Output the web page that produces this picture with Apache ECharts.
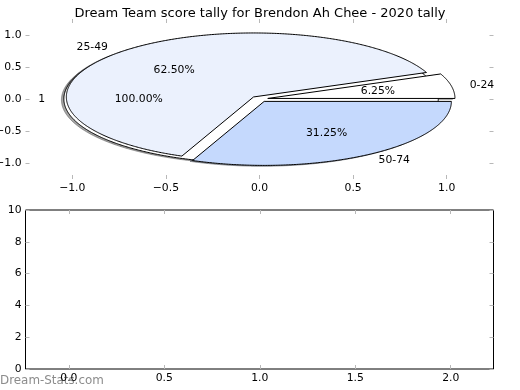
<!DOCTYPE html>
<html><head><meta charset="utf-8">
<script src="https://cdn.jsdelivr.net/npm/echarts@6/dist/echarts.min.js"></script>
<style>html,body{margin:0;padding:0;background:#fff}#c{width:520px;height:390px}</style>
</head><body><div id="c"></div><script>
// ---- data ----
const chartTitle = 'Dream Team score tally for Brendon Ah Chee - 2020 tally';
const outerLabels = ['1'];
const outerValues = [1];
const innerLabels = ['0-24', '25-49', '50-74'];
const innerValues = [1, 10, 5];
const pieTickValues = [-1, -0.5, 0, 0.5, 1];
const bottomXTickValues = [0, 0.5, 1, 1.5, 2];
const bottomYTickValues = [0, 2, 4, 6, 8, 10];
const watermark = 'Dream-Stats.com';

// ---- styles ----
const outerColors = ['#ffffff'];
const innerColors = ['#ffffff', '#ebf1fd', '#c5d9fd'];
const FONT = 'DejaVu Sans';
const LABEL_SIZE = 10.8;
const EXPLODE = 0.045, RADIUS = 1, LABEL_DIST = 1.1, PCT_DIST = 0.6, SHADOW = 0.013;

function buildPie(values, labels, colors) {
  const total = values.reduce((a, b) => a + b, 0);
  let a = 0;
  return values.map((v, i) => {
    const t1 = a, t2 = a + v / total * 360; a = t2;
    return { t1, t2, label: labels[i], pct: (v / total * 100).toFixed(2) + '%', color: colors[i] };
  });
}
const pies = [buildPie(outerValues, outerLabels, outerColors), buildPie(innerValues, innerLabels, innerColors)];
const items = [];
pies.forEach((p, pi) => p.forEach((s, si) => items.push([0, 0, pi, si])));

function hexToRgb(h) { return [1, 3, 5].map(i => parseInt(h.substr(i, 2), 16)); }

function renderItem(params, api) {
  const pi = api.value(2), si = api.value(3);
  const s = pies[pi][si];
  const rad = Math.PI / 180;
  const mid = (s.t1 + s.t2) / 2 * rad;
  const cx = EXPLODE * Math.cos(mid), cy = EXPLODE * Math.sin(mid);
  const full = Math.abs(s.t2 - s.t1 - 360) < 1e-9;
  const pts = [];
  if (!full) pts.push([cx, cy]);
  const n = Math.max(4, Math.ceil((s.t2 - s.t1) * 2));
  for (let k = 0; k <= n; k++) {
    const t = (s.t1 + (s.t2 - s.t1) * k / n) * rad;
    pts.push([cx + RADIUS * Math.cos(t), cy + RADIUS * Math.sin(t)]);
  }
  const wedge = pts.map(p => api.coord(p));
  const shadow = pts.map(p => api.coord([p[0] - SHADOW, p[1] - SHADOW]));
  const rgb = hexToRgb(s.color).map(c => Math.round(c * 0.3));
  const sc = 'rgba(' + rgb.join(',') + ',0.5)';
  const lxd = LABEL_DIST * RADIUS * Math.cos(mid) + cx;
  const lp = api.coord([lxd, LABEL_DIST * RADIUS * Math.sin(mid) + cy]);
  const pp = api.coord([PCT_DIST * RADIUS * Math.cos(mid) + cx, PCT_DIST * RADIUS * Math.sin(mid) + cy]);
  return {
    type: 'group',
    children: [
      { type: 'polygon', z2: 0, shape: { points: shadow }, style: { fill: sc, stroke: sc, lineWidth: 1 } },
      { type: 'polygon', z2: 1 + pi, shape: { points: wedge }, style: { fill: s.color, stroke: '#000', lineWidth: 1, lineJoin: 'miter' } },
      { type: 'text', z2: 10, x: lp[0], y: lp[1], style: { text: s.label, fill: '#000', fontSize: LABEL_SIZE, fontFamily: FONT, align: lxd > 0 ? 'left' : 'right', verticalAlign: 'middle' } },
      { type: 'text', z2: 10, x: pp[0], y: pp[1], style: { text: s.pct, fill: '#000', fontSize: LABEL_SIZE, fontFamily: FONT, align: 'center', verticalAlign: 'middle' } }
    ]
  };
}

const fmt1 = v => (v < 0 ? '\u2212' : '') + Math.abs(v).toFixed(1);
const tickStyle = { show: true, inside: true, length: 4, lineStyle: { color: '#b8b8b8', width: 1 } };
function axis(grid, pos, min, max, ticks, labels, formatter) {
  return {
    type: 'value', gridIndex: grid, position: pos, min, max, scale: true,
    axisLine: { show: false, onZero: false },
    splitLine: { show: false },
    axisTick: Object.assign({}, tickStyle, { customValues: ticks }),
    axisLabel: { show: labels, customValues: ticks, formatter, color: '#000', fontSize: LABEL_SIZE, fontFamily: FONT, margin: 4 }
  };
}

const chart = echarts.init(document.getElementById('c'), null, { renderer: 'canvas' });
chart.setOption({
  animation: false,
  backgroundColor: '#fff',
  title: { text: chartTitle, left: 'center', top: 2, textStyle: { fontSize: 13, fontWeight: 'normal', color: '#000', fontFamily: FONT } },
  grid: [
    { left: 25.5, right: 26.5, top: 19, height: 160, containLabel: false, outerBoundsMode: 'none' },
    { left: 25.5, right: 26.5, top: 210, bottom: 21, containLabel: false, outerBoundsMode: 'none', show: true, borderColor: '#000', borderWidth: 1, backgroundColor: 'transparent' }
  ],
  xAxis: [
    axis(0, 'bottom', -1.25, 1.25, pieTickValues, true, fmt1),
    axis(0, 'top', -1.25, 1.25, pieTickValues, false, fmt1),
    axis(1, 'bottom', -0.227, 2.224, bottomXTickValues, true, fmt1),
    axis(1, 'top', -0.227, 2.224, bottomXTickValues, false, fmt1)
  ],
  yAxis: [
    axis(0, 'left', -1.25, 1.25, pieTickValues, true, fmt1),
    axis(0, 'right', -1.25, 1.25, pieTickValues, false, fmt1),
    axis(1, 'left', 0, 10, bottomYTickValues, true, v => String(v)),
    axis(1, 'right', 0, 10, bottomYTickValues, false, v => String(v))
  ],
  graphic: [
    { type: 'text', left: 0, top: 375, z: -1, style: { text: watermark, fill: '#8c8c8c', fontSize: 11.9, fontFamily: FONT } }
  ],
  series: [{
    type: 'custom', xAxisIndex: 0, yAxisIndex: 0, clip: false,
    encode: { x: 0, y: 1 },
    renderItem, data: items
  }]
});
</script></body></html>
